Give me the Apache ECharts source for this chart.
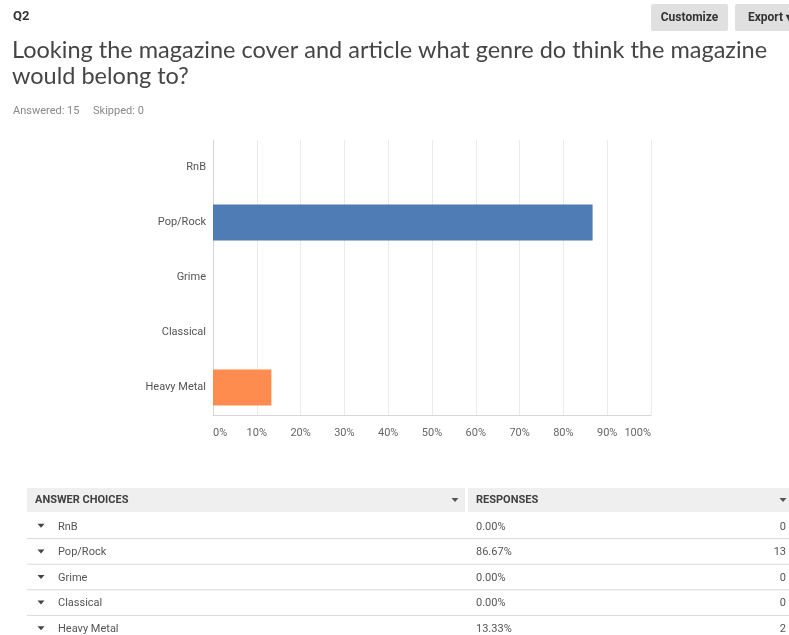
<!DOCTYPE html>
<html>
<head>
<meta charset="utf-8">
<script src="https://cdn.jsdelivr.net/npm/echarts@6/dist/echarts.min.js"></script>
<style>
  html, body { margin: 0; padding: 0; background: #fff; }
  #chart { width: 789px; height: 635px; }
</style>
</head>
<body>
<div id="chart"></div>
<script>
// Survey question Q2 – answer breakdown
const categories = ['RnB', 'Pop/Rock', 'Grime', 'Classical', 'Heavy Metal'];
const percentages = [0.00, 86.67, 0.00, 0.00, 13.33];
const counts = [0, 13, 0, 0, 2];
const barColors = ['#4f7cb5', '#4f7cb5', '#4f7cb5', '#4f7cb5', '#ff8c4f'];
const tickValues = [0, 10, 20, 30, 40, 50, 60, 70, 80, 90, 100];

const chart = echarts.init(document.getElementById('chart'), null, { renderer: 'canvas' });

const tableFont = 'Roboto, "Liberation Sans", sans-serif';
const graphics = [];

// header buttons
function button(x, w, label) {
  graphics.push({
    type: 'rect', shape: { x: x, y: 4, width: w, height: 27, r: 2 },
    style: { fill: '#e0e0e0' }
  });
  graphics.push({
    type: 'text', x: x + w / 2, y: 17.5,
    style: { text: label, fill: '#333', font: 'bold 12px ' + tableFont, align: 'center', verticalAlign: 'middle' }
  });
}
button(651, 77, 'Customize');
button(735, 70, 'Export \u25BE');

// question text
graphics.push({ type: 'text', x: 13, y: 17, style: { text: 'Q2', fill: '#333', font: 'bold 13px ' + tableFont, verticalAlign: 'middle' } });
graphics.push({ type: 'text', x: 12, y: 50, style: { text: 'Looking the magazine cover and article what genre do think the magazine', fill: '#454545', font: '23.5px Lato, sans-serif', verticalAlign: 'middle' } });
graphics.push({ type: 'text', x: 12, y: 76, style: { text: 'would belong to?', fill: '#454545', font: '23.5px Lato, sans-serif', verticalAlign: 'middle' } });
graphics.push({ type: 'text', x: 13, y: 111.5, style: { text: 'Answered: 15     Skipped: 0', fill: '#888', font: '11px ' + tableFont, verticalAlign: 'middle' } });

// table
const tableLeft = 27, tableRight = 789, headerTop = 488, headerH = 24, rowH = 25.6, splitX = 466;
graphics.push({ type: 'rect', shape: { x: tableLeft, y: headerTop, width: splitX - tableLeft - 1, height: headerH }, style: { fill: '#efefef' } });
graphics.push({ type: 'rect', shape: { x: splitX + 2, y: headerTop, width: tableRight - splitX - 2, height: headerH }, style: { fill: '#efefef' } });
graphics.push({ type: 'text', x: 35, y: headerTop + headerH / 2 + 0.5, style: { text: 'ANSWER CHOICES', fill: '#404040', font: 'bold 11px ' + tableFont, verticalAlign: 'middle' } });
graphics.push({ type: 'text', x: 476, y: headerTop + headerH / 2 + 0.5, style: { text: 'RESPONSES', fill: '#404040', font: 'bold 11px ' + tableFont, verticalAlign: 'middle' } });

function caret(cx, cy, color) {
  graphics.push({
    type: 'polygon', shape: { points: [[cx - 3.5, cy - 2], [cx + 3.5, cy - 2], [cx, cy + 2]] },
    style: { fill: color }
  });
}
caret(455, headerTop + headerH / 2, '#555');
caret(783, headerTop + headerH / 2, '#555');

categories.forEach(function (name, i) {
  const cy = headerTop + headerH + rowH * i + rowH / 2 + 1;
  if (i > 0) {
    graphics.push({ type: 'line', shape: { x1: tableLeft, y1: cy - rowH / 2, x2: tableRight, y2: cy - rowH / 2 }, style: { stroke: '#d9d9d9', lineWidth: 1 } });
  }
  caret(41, cy, '#444');
  graphics.push({ type: 'text', x: 58, y: cy + 1, style: { text: name, fill: '#555', font: '11px ' + tableFont, verticalAlign: 'middle' } });
  graphics.push({ type: 'text', x: 476, y: cy + 1, style: { text: percentages[i].toFixed(2) + '%', fill: '#555', font: '11px ' + tableFont, verticalAlign: 'middle' } });
  graphics.push({ type: 'text', x: 786, y: cy + 1, style: { text: String(counts[i]), fill: '#555', font: '11px ' + tableFont, align: 'right', verticalAlign: 'middle' } });
});

chart.setOption({
  animation: false,
  backgroundColor: '#fff',
  textStyle: { fontFamily: tableFont },
  grid: { left: 213, right: 138, top: 140, bottom: 220, containLabel: false },
  xAxis: {
    type: 'value', min: 0, max: 100, interval: 10,
    axisLine: { show: true, lineStyle: { color: '#d6d6d6' } },
    axisTick: { show: false },
    splitLine: { show: true, lineStyle: { color: '#ebebeb' } },
    axisLabel: {
      color: '#666', fontSize: 11, margin: 13,
      alignMinLabel: 'left', alignMaxLabel: 'right',
      formatter: function (v) { return tickValues.indexOf(v) >= 0 ? v + '%' : ''; }
    }
  },
  yAxis: {
    type: 'category', inverse: true, data: categories,
    axisLine: { show: true, lineStyle: { color: '#d6d6d6' } },
    axisTick: { show: false },
    axisLabel: { color: '#555', fontSize: 11, margin: 7, padding: [2, 0, 0, 0] }
  },
  series: [{
    type: 'bar',
    barWidth: 36,
    data: percentages.map(function (v, i) { return { value: v, itemStyle: { color: barColors[i] } }; })
  }],
  graphic: graphics
});
</script>
</body>
</html>
